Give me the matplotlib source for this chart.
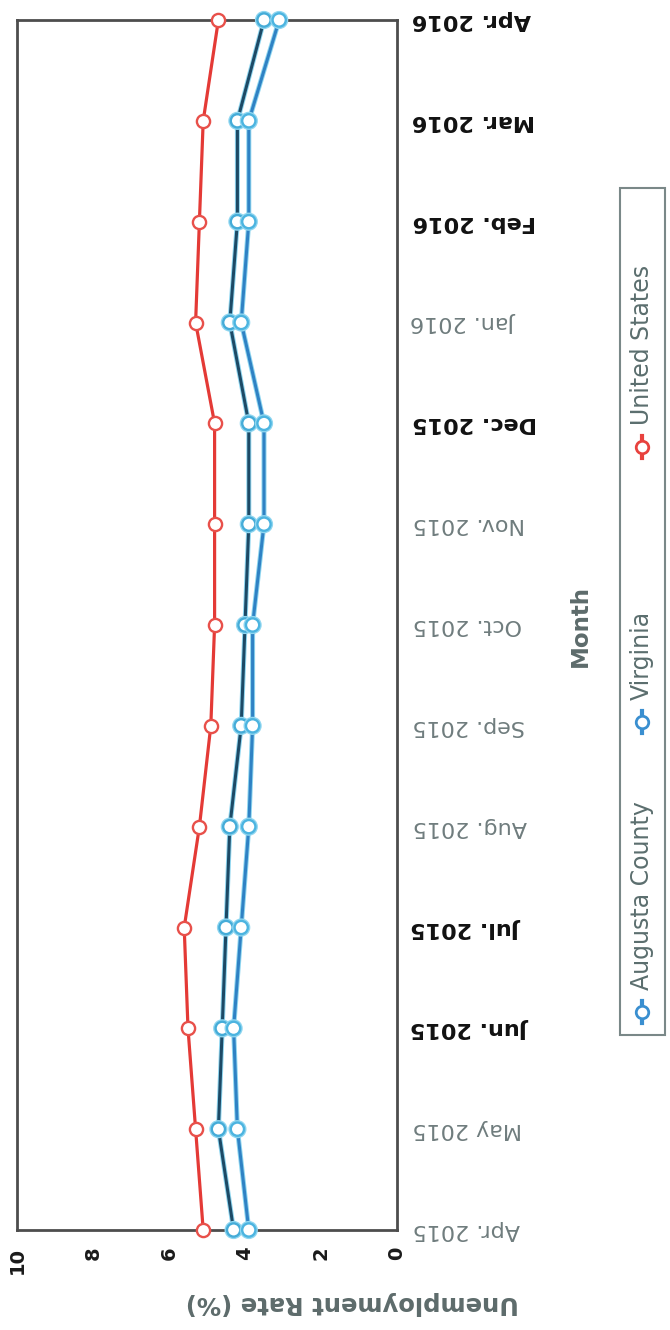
import numpy as np
import matplotlib
matplotlib.use('Agg')
import matplotlib.pyplot as plt
import matplotlib.patheffects as pe
from matplotlib.patches import Rectangle

months = ['Apr. 2015', 'May 2015', 'Jun. 2015', 'Jul. 2015', 'Aug. 2015',
          'Sep. 2015', 'Oct. 2015', 'Nov. 2015', 'Dec. 2015', 'Jan. 2016',
          'Feb. 2016', 'Mar. 2016', 'Apr. 2016']
united_states = [5.1, 5.3, 5.5, 5.6, 5.2, 4.9, 4.8, 4.8, 4.8, 5.3, 5.2, 5.1, 4.7]
virginia = [4.3, 4.7, 4.6, 4.5, 4.4, 4.1, 4.0, 3.9, 3.9, 4.4, 4.2, 4.2, 3.5]
augusta = [3.9, 4.2, 4.3, 4.1, 3.9, 3.8, 3.8, 3.5, 3.5, 4.1, 3.9, 3.9, 3.1]
rate_ticks = [0, 2, 4, 6, 8, 10]

# month labels that came out dark/bold on the scan
dark_months = ['Jun. 2015', 'Jul. 2015', 'Dec. 2015', 'Feb. 2016',
               'Mar. 2016', 'Apr. 2016']

pos = np.arange(len(months))

fig = plt.figure(figsize=(6.7, 13.3), dpi=100)
ax = fig.add_axes([17/670, 100/1330, 380/670, 1210/1330])

halo = [pe.Stroke(linewidth=3.6, foreground='#8fd6f0'), pe.Normal()]

ax.plot(united_states, pos, color='#e43a36', lw=2.3, marker='o', ms=9.5,
        mfc='white', mec='#e8504a', mew=1.7, clip_on=False, zorder=4)
ax.plot(virginia, pos, color='#1d4a66', lw=2.2, marker='o', ms=9.5,
        mfc='white', mec='#45acd8', mew=1.7, clip_on=False, zorder=3,
        path_effects=halo)
ax.plot(augusta, pos, color='#2f82c4', lw=2.2, marker='o', ms=9.5,
        mfc='white', mec='#4cb4e0', mew=1.7, clip_on=False, zorder=3,
        path_effects=halo)

ax.set_xlim(10, 0)
ax.set_ylim(0, len(months) - 1)

ax.set_xticks(rate_ticks)
ax.set_xticklabels([str(t) for t in rate_ticks], rotation=90,
                   fontsize=14, fontweight='bold', color='#1a1a1a')
ax.yaxis.tick_right()
ax.set_yticks(pos)
ax.set_yticklabels(months, rotation=180, va='center', fontsize=16)
for lbl in ax.get_yticklabels():
    if lbl.get_text() in dark_months:
        lbl.set_color('#111111')
        lbl.set_fontweight('bold')
    else:
        lbl.set_color('#6f7c7d')
ax.tick_params(axis='x', length=0, pad=12)
ax.tick_params(axis='y', length=0, pad=11)

for s in ax.spines.values():
    s.set_color('#4d4d4d')
    s.set_linewidth(2)

fig.text(352/670, 1 - 1303/1330, 'Unemployment Rate (%)', rotation=180,
         ha='center', va='center', fontsize=17.5, fontweight='bold',
         color='#5d6b6b')
fig.text(580/670, 1 - 626/1330, 'Month', rotation=90, ha='center',
         va='center', fontsize=16.5, fontweight='bold', color='#5d6b6b')

# legend, drawn sideways like the scan
lax = fig.add_axes([0, 0, 1, 1])
lax.set_xlim(0, 670)
lax.set_ylim(1330, 0)
lax.axis('off')
lax.add_patch(Rectangle((620, 188), 45, 847, fill=False, ec='#7a8888', lw=1.5))
legend_items = [('Augusta County', '#3a8fd0', 1012, 990),
                ('Virginia', '#3a8fd0', 722, 700),
                ('United States', '#e8423e', 447, 425)]
for name, col, my, ty in legend_items:
    lax.plot([642, 642], [my - 11, my + 11], color=col, lw=3)
    lax.plot([642], [my], marker='o', ms=9, mfc='white', mec=col, mew=2)
    lax.text(642, ty, name, rotation=90, rotation_mode='anchor', ha='left',
             va='center', fontsize=17, color='#5b6e6e')

plt.savefig('out.png', dpi=100)
